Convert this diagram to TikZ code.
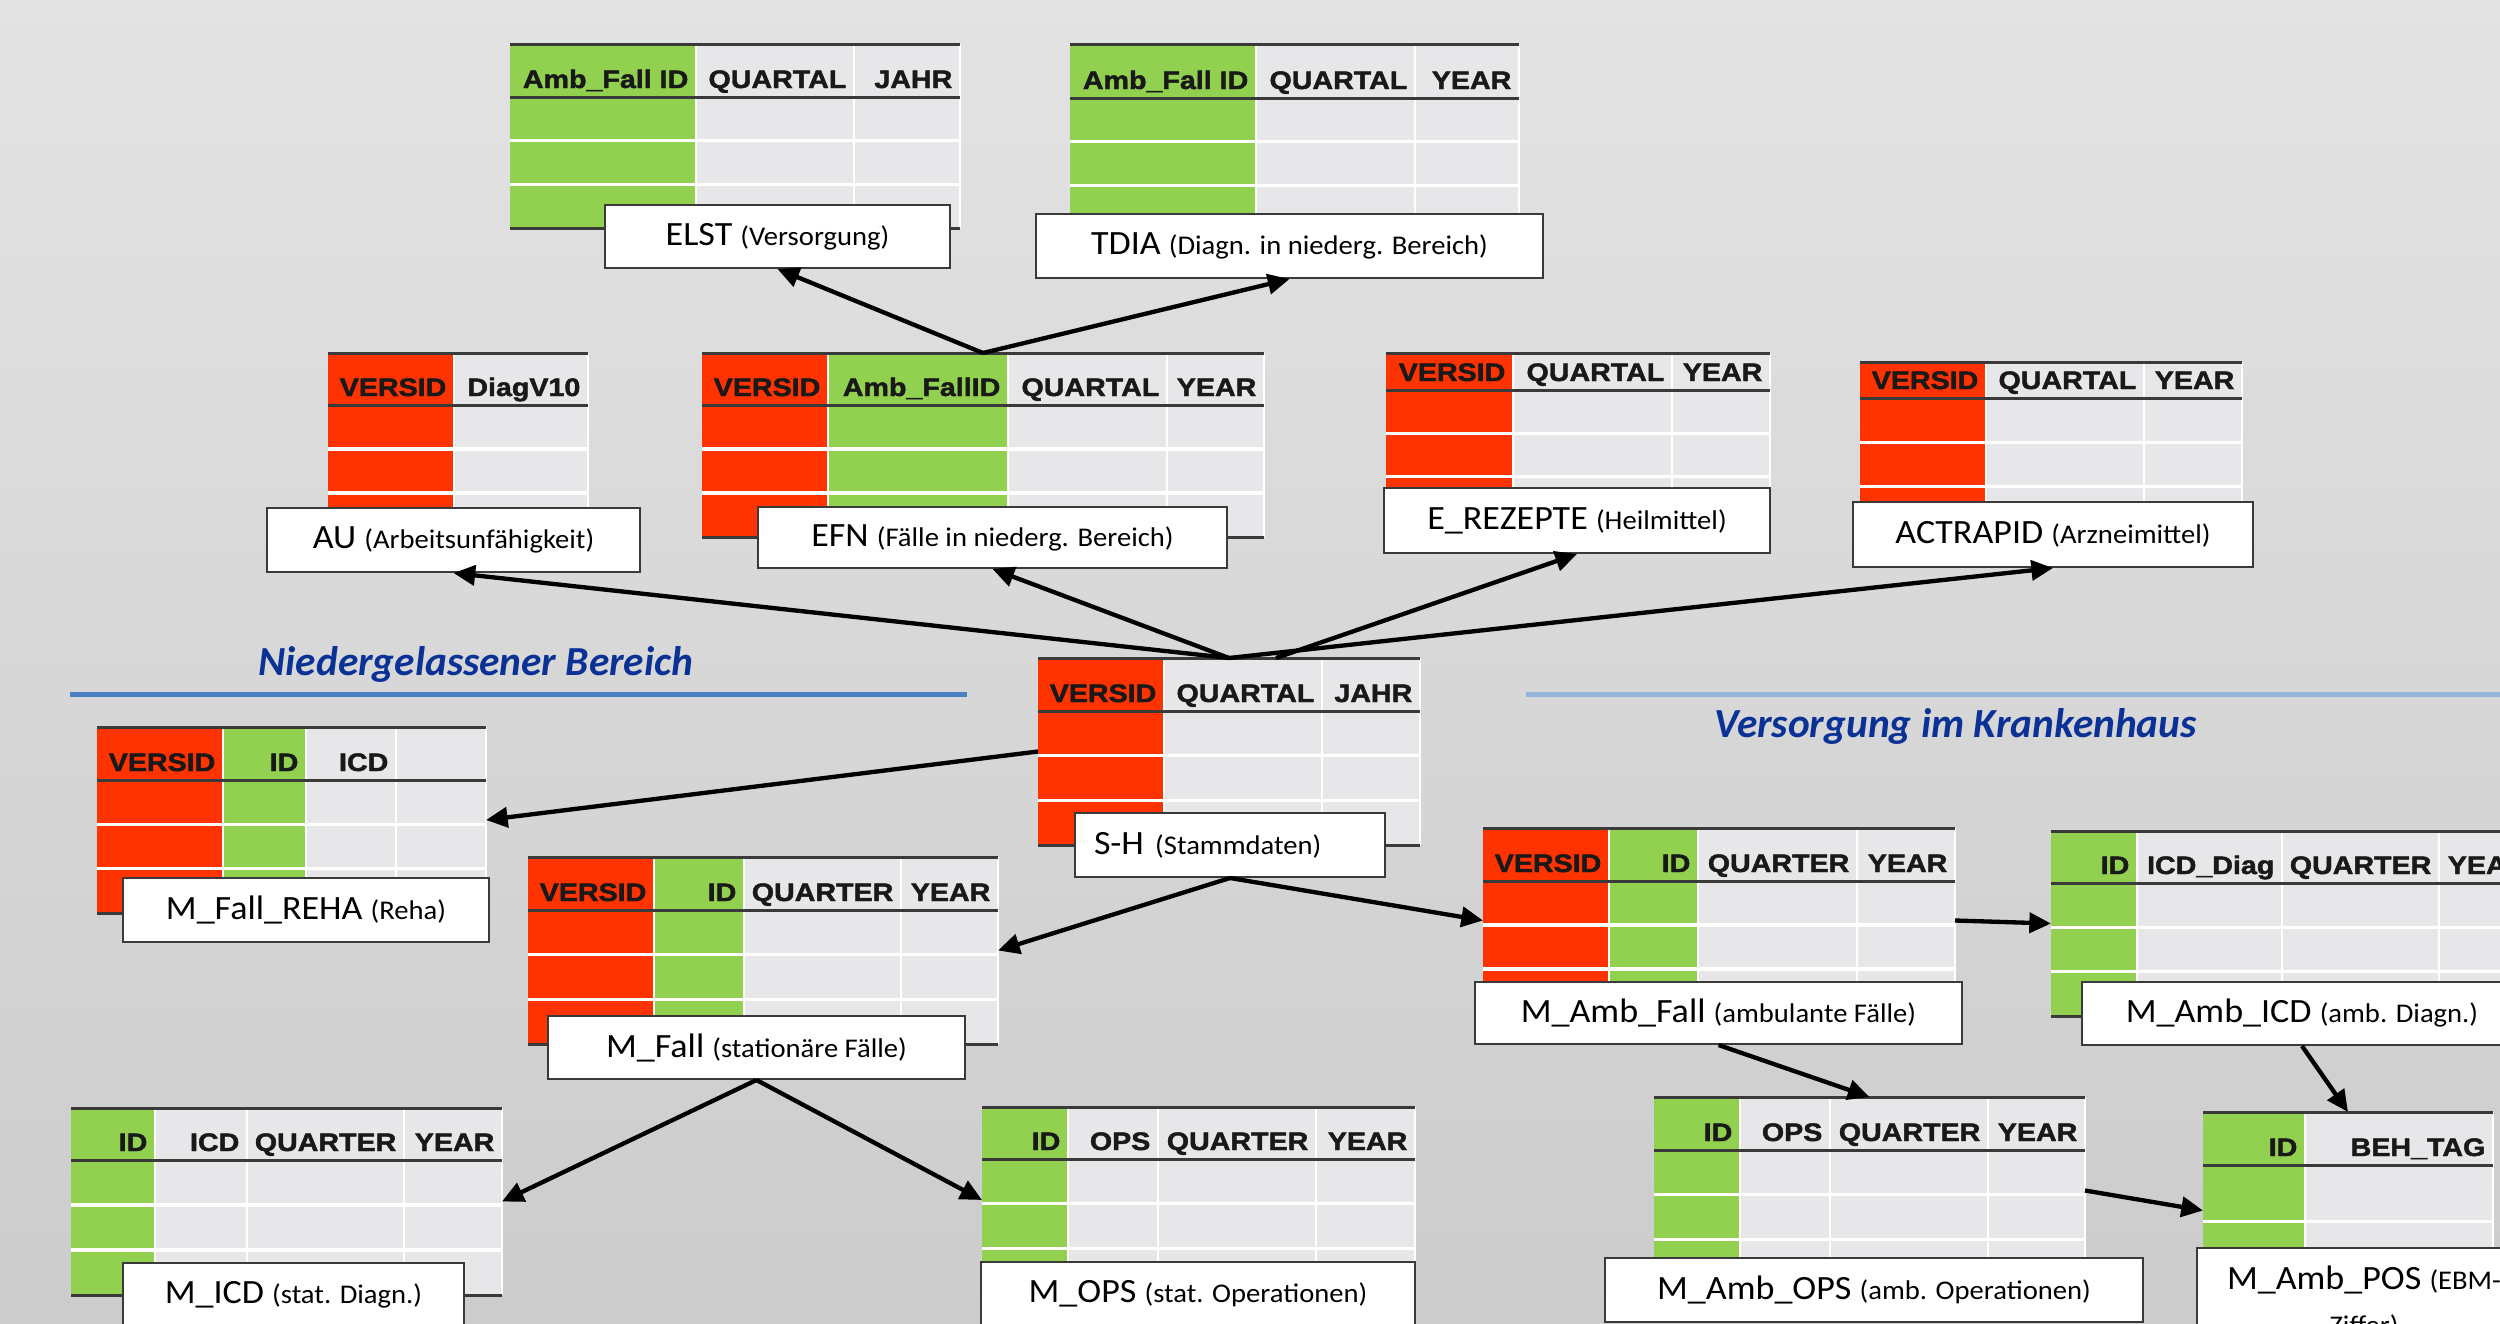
\documentclass[tikz,border=0pt]{standalone}
\usepackage{fontspec}
\setmainfont{Carlito}
\newfontfamily\lblfont[FakeStretch=1.06]{Carlito}
\newfontfamily\hdrfont[FakeStretch=1.13,FakeBold=1.8]{Liberation Sans}
\usetikzlibrary{arrows.meta,calc}
\definecolor{cred}{HTML}{FF3300}
\definecolor{cgreen}{HTML}{92D050}
\definecolor{cgray}{HTML}{E7E7E9}
\definecolor{cdark}{HTML}{3A3A3A}
\definecolor{ctitle}{HTML}{0A3296}
\definecolor{cblueA}{HTML}{4A7FC1}
\definecolor{cblueB}{HTML}{95B5DC}
\newcommand\mainf{\lblfont\fontsize{10.2pt}{13.5pt}\selectfont}
\newcommand\subf{\lblfont\fontsize{8.1pt}{13.5pt}\selectfont}
\tikzset{
  tabbox/.style={rectangle,inner sep=0pt,outer sep=0pt},
  hdrtext/.style={inner sep=0pt,text=black!90,font=\hdrfont\bfseries\fontsize{7.6pt}{9pt}\selectfont},
  rowline/.style={white,line width=1pt},
  colline/.style={white,line width=0.6pt},
  tabline/.style={cdark,line width=0.9pt},
  lbl/.style={rectangle,draw=cdark,line width=0.6pt,fill=white,inner sep=0pt,font=\mainf},
  ttl/.style={text=ctitle,font=\bfseries\itshape\fontsize{12.4pt}{14pt}\selectfont,inner sep=0pt},
  conn/.style={line width=1.3pt,-{Triangle[length=6.5pt,width=6pt]}},
}
\newcommand{\dbtab}[7]{%
  \node[tabbox,minimum width={(#3-#2)*0.3pt},minimum height={(#6-#4)*0.3pt},anchor=north west] (#1) at (#2,#4) {};
  \foreach \colR/\colC/\colT [remember=\colR as \colL (initially #2)] in {#7}{%
    \fill[\colC] (\colL,#4) rectangle (\colR,#6);
    \node[hdrtext,anchor=base east] at ({\colR-7},{#5-9}) {\colT};
  }
  \pgfmathsetmacro\rowA{#5+(#6-#5)/3}
  \pgfmathsetmacro\rowB{#5+2*(#6-#5)/3}
  \draw[rowline] (#2,\rowA) -- (#3,\rowA) (#2,\rowB) -- (#3,\rowB);
  \foreach \colR/\colC/\colT in {#7}{\draw[colline] (\colR,#4) -- (\colR,#6);}
  \draw[tabline] (#2,#4) -- (#3,#4) (#2,#5) -- (#3,#5) (#2,#6) -- (#3,#6);
}
\newcommand{\lblbox}[7]{%
  \node[lbl,minimum width={(#4-#2)*0.3pt},minimum height={(#5-#3)*0.3pt}] (#1) at ({(#2+#4)/2},{(#3+#5)/2}) {{\mainf #6} {\subf #7}};
}
\begin{document}
\begin{tikzpicture}[x=0.3pt,y=-0.3pt]
\path[use as bounding box] (0,0) rectangle (2500,1324);
\clip (0,0) rectangle (2500,1324);
\shade[top color=black!11,bottom color=black!20] (0,0) rectangle (2500,1324);

% section titles
\draw[cblueA,line width=1.5pt] (70,694) -- (967,694);
\draw[cblueB,line width=1.5pt] (1526,694) -- (2500,694);
\node[ttl,anchor=base west] (ttlA) at (258,675) {Niedergelassener Bereich};
\node[ttl,anchor=base west] (ttlB) at (1714,737) {Versorgung im Krankenhaus};

% tables
\dbtab{elstT}{510}{960}{44}{97}{228}{696/cgreen/Amb\_Fall ID,854/cgray/QUARTAL,960/cgray/JAHR}
\dbtab{tdiaT}{1070}{1519}{44}{98}{229}{1256/cgreen/Amb\_Fall ID,1415/cgray/QUARTAL,1519/cgray/YEAR}
\dbtab{auT}{328}{588}{353}{405}{537}{454/cred/VERSID,588/cgray/DiagV10}
\dbtab{efnT}{702}{1264}{353}{405}{537}{828/cred/VERSID,1008/cgreen/Amb\_FallID,1167/cgray/QUARTAL,1264/cgray/YEAR}
\dbtab{erezT}{1386}{1770}{353}{390}{520}{1513/cred/VERSID,1672/cgray/QUARTAL,1770/cgray/YEAR}
\dbtab{actT}{1860}{2242}{362}{398}{531}{1986/cred/VERSID,2144/cgray/QUARTAL,2242/cgray/YEAR}
\dbtab{shT}{1038}{1420}{658}{711}{845}{1164/cred/VERSID,1322/cgray/QUARTAL,1420/cgray/JAHR}
\dbtab{rehaT}{97}{486}{727}{780}{913}{223/cred/VERSID,306/cgreen/ID,396/cgray/ICD,486/cgray/{}}
\dbtab{mfallT}{528}{998}{857}{910}{1044}{654/cred/VERSID,744/cgreen/ID,901/cgray/QUARTER,998/cgray/YEAR}
\dbtab{mambT}{1483}{1955}{828}{881}{1013}{1609/cred/VERSID,1698/cgreen/ID,1857/cgray/QUARTER,1955/cgray/YEAR}
\dbtab{mambicdT}{2051}{2535}{831}{883}{1016}{2137/cgreen/ID,2282/cgray/ICD\_Diag,2439/cgray/QUARTER,2535/cgray/YEAR}
\dbtab{mambopsT}{1654}{2085}{1097}{1150}{1284}{1740/cgreen/ID,1830/cgray/OPS,1988/cgray/QUARTER,2085/cgray/YEAR}
\dbtab{micdT}{71}{502}{1108}{1160}{1295}{155/cgreen/ID,247/cgray/ICD,404/cgray/QUARTER,502/cgray/YEAR}
\dbtab{mopsT}{982}{1415}{1107}{1159}{1293}{1068/cgreen/ID,1158/cgray/OPS,1316/cgray/QUARTER,1415/cgray/YEAR}
\dbtab{posT}{2203}{2493}{1112}{1165}{1335}{2305/cgreen/ID,2493/cgray/BEH\_TAG}

% labels
\lblbox{elstL}{605}{205}{950}{268}{ELST}{(Versorgung)}
\lblbox{tdiaL}{1036}{214}{1543}{278}{TDIA}{(Diagn. in niederg. Bereich)}
\lblbox{auL}{267}{508}{640}{572}{AU}{(Arbeitsunfähigkeit)}
\lblbox{efnL}{758}{507}{1227}{568}{EFN}{(Fälle in niederg. Bereich)}
\lblbox{erezL}{1384}{488}{1770}{553}{E\_REZEPTE}{(Heilmittel)}
\lblbox{actL}{1853}{502}{2253}{567}{ACTRAPID}{(Arzneimittel)}
\node[lbl,minimum width={310*0.3pt},minimum height={64*0.3pt},text width={272*0.3pt},inner xsep={19*0.3pt},align=left] (shL) at (1230,845) {{\mainf S-H} {\subf (Stammdaten)}};
\lblbox{rehaL}{123}{878}{489}{942}{M\_Fall\_REHA}{(Reha)}
\lblbox{mfallL}{548}{1016}{965}{1079}{M\_Fall}{(stationäre Fälle)}
\lblbox{mambL}{1475}{982}{1962}{1044}{M\_Amb\_Fall}{(ambulante Fälle)}
\lblbox{mambicdL}{2082}{982}{2522}{1045}{M\_Amb\_ICD}{(amb. Diagn.)}
\lblbox{mambopsL}{1605}{1258}{2143}{1322}{M\_Amb\_OPS}{(amb. Operationen)}
\lblbox{micdL}{123}{1263}{464}{1327}{M\_ICD}{(stat. Diagn.)}
\lblbox{mopsL}{981}{1262}{1415}{1326}{M\_OPS}{(stat. Operationen)}
\node[lbl,anchor=north,minimum width={334*0.3pt},inner ysep={18*0.3pt},align=center] (posL) at (2364,1247) {{\mainf M\_Amb\_POS} {\subf (EBM-}\\{\subf Ziffer)}};

% connectors
\coordinate (shN2) at ($(shT.north)+(47,0)$);
\coordinate (posIn) at ($(posT.west)+(0,-13)$);
\draw[conn] (efnT.north) -- (elstL.south);
\draw[conn] (efnT.north) -- (tdiaL.south);
\draw[conn] (shT.north) -- (auL.south);
\draw[conn] (shT.north) -- (efnL.south);
\draw[conn] (shN2) -- (erezL.south);
\draw[conn] (shT.north) -- (actL.south);
\draw[conn] (shT.west) -- (rehaT.east);
\draw[conn] (shL.south) -- (mfallT.east);
\draw[conn] (shL.south) -- (mambT.west);
\draw[conn] (mfallL.south) -- (micdT.east);
\draw[conn] (mfallL.south) -- (mopsT.west);
\draw[conn] (mambT.east) -- (mambicdT.west);
\draw[conn] (mambL.south) -- (mambopsT.north);
\draw[conn] (mambicdL.south) -- (posT.north);
\draw[conn] (mambopsT.east) -- (posIn);
\end{tikzpicture}
\end{document}
